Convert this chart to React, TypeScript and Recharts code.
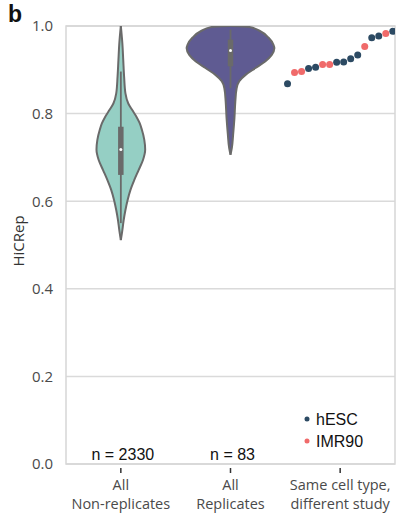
import React from 'react';
import {
  ComposedChart,
  Area,
  Scatter,
  XAxis,
  YAxis,
  CartesianGrid,
  ReferenceLine,
  ReferenceDot,
  ReferenceArea,
  Legend,
} from 'recharts';

// category labels (two lines each) and sample counts
const groupLines = [
  ['All', 'Non-replicates'],
  ['All', 'Replicates'],
  ['Same cell type,', 'different study'],
];
const groupCounts = ['n = 2330', 'n = 83'];

// violin outlines: HiCRep score (top to bottom) and density relative to the widest violin
const nonRepScores = [1.0, 0.96, 0.922, 0.884, 0.846, 0.823, 0.808, 0.793, 0.778, 0.763, 0.74, 0.718, 0.694, 0.671, 0.648, 0.626, 0.603, 0.58, 0.557, 0.534, 0.511];
const nonRepDensity = [0, 0.035, 0.055, 0.075, 0.105, 0.17, 0.26, 0.355, 0.43, 0.48, 0.535, 0.555, 0.505, 0.405, 0.305, 0.22, 0.155, 0.105, 0.065, 0.035, 0];

const repScores = [1.0, 0.998, 0.988, 0.973, 0.957, 0.949, 0.934, 0.919, 0.904, 0.889, 0.874, 0.858, 0.828, 0.79, 0.752, 0.721, 0.706];
const repDensity = [0, 0.42, 0.68, 0.87, 0.98, 1.0, 0.94, 0.79, 0.57, 0.35, 0.2, 0.14, 0.11, 0.09, 0.06, 0.03, 0];

// inner box: whisker low, q1, median, q3, whisker high
const nonRepBox = [0.55, 0.66, 0.718, 0.77, 0.896];
const repBox = [0.858, 0.908, 0.944, 0.969, 0.992];

// same cell type, different study: sorted scores and cell line
const sameStudyScores = [0.868, 0.894, 0.896, 0.903, 0.906, 0.912, 0.912, 0.917, 0.918, 0.925, 0.934, 0.953, 0.973, 0.977, 0.983, 0.988];
const sameStudyCells = ['hESC', 'IMR90', 'IMR90', 'hESC', 'hESC', 'IMR90', 'IMR90', 'hESC', 'hESC', 'hESC', 'hESC', 'IMR90', 'hESC', 'hESC', 'IMR90', 'hESC'];

const cellTypes = ['hESC', 'IMR90'];
const cellColors: Record<string, string> = { hESC: '#2c4a63', IMR90: '#f06a6a' };

const yTicks = [0, 0.2, 0.4, 0.6, 0.8, 1.0];

const HALF_WIDTH = 0.4; // half of the violin width in category units
const STRIP_SPREAD = 0.96;
const OUTLINE = '#6a6a6a';

const violin = (scores: number[], density: number[], center: number) =>
  scores.map((v, i) => ({
    v,
    range: [center - density[i] * HALF_WIDTH, center + density[i] * HALF_WIDTH],
  }));

const nonRepData = violin(nonRepScores, nonRepDensity, 0.5);
const repData = violin(repScores, repDensity, 1.5);

const n = sameStudyScores.length;
const stripPoints = sameStudyScores.map((v, i) => ({
  x: 2.5 + (i - (n - 1) / 2) * (STRIP_SPREAD / (n - 1)),
  v,
  cell: sameStudyCells[i],
}));

const countMarks = groupCounts.map((text, i) => ({ x: i + 0.5, v: 0, text }));

const GroupTick = (props: any) => {
  const { x, y, payload } = props;
  const lines = groupLines[Math.round(payload.value - 0.5)] || [];
  return (
    <g>
      <line x1={x} x2={x} y1={y + 4} y2={y + 9} stroke="#333" strokeWidth={1.5} />
      {lines.map((line, i) => (
        <text
          key={i}
          x={x}
          y={y + 26 + i * 18.5}
          textAnchor="middle"
          fontFamily="'Open Sans', sans-serif"
          fontSize={14.5}
          fill="#4a4a4a"
        >
          {line}
        </text>
      ))}
    </g>
  );
};

const CountLabel = (props: any) => (
  <text
    x={props.cx + 2}
    y={props.cy - 4}
    textAnchor="middle"
    fontFamily="'Liberation Sans', Arial, sans-serif"
    fontSize={16}
    fill="#111"
  >
    {props.payload.text}
  </text>
);

const StripDot = (props: any) => (
  <circle cx={props.cx} cy={props.cy} r={3.5} fill={props.fill} />
);

const CellLegend = () => (
  <svg width={120} height={50} style={{ position: 'absolute', left: 300, top: 405 }}>
    {cellTypes.map((cell, i) => (
      <g key={cell}>
        <circle cx={7} cy={14 + i * 22} r={2.5} fill={cellColors[cell]} />
        <text
          x={16}
          y={20 + i * 22}
          fontFamily="'Liberation Sans', Arial, sans-serif"
          fontSize={16}
          fill="#111"
        >
          {cell}
        </text>
      </g>
    ))}
  </svg>
);

const renderBox = (stats: number[], center: number) => [
  <ReferenceLine
    key="w"
    segment={[{ x: center, y: stats[0] }, { x: center, y: stats[4] }]}
    stroke={OUTLINE}
    strokeWidth={1.8}
  />,
  <ReferenceLine
    key="b"
    segment={[{ x: center, y: stats[1] }, { x: center, y: stats[3] }]}
    stroke={OUTLINE}
    strokeWidth={5.5}
  />,
  <ReferenceDot key="m" x={center} y={stats[2]} r={1.5} fill="#fff" stroke="none" />,
];

export default function App() {
  return (
    <div style={{ position: 'absolute', left: 0, top: 0, width: 401, height: 519, background: '#fff' }}>
      <svg width={40} height={30} style={{ position: 'absolute', left: 0, top: 0 }}>
        <text x={8} y={22} fontFamily="'Liberation Sans', Arial, sans-serif" fontWeight="bold" fontSize={23} fill="#111">
          b
        </text>
      </svg>
      <ComposedChart
        layout="vertical"
        width={401}
        height={519}
        margin={{ top: 26, right: 6, bottom: 0, left: 0 }}
      >
        <CartesianGrid vertical={false} stroke="#dadada" strokeWidth={1.5} />
        <XAxis
          type="number"
          dataKey="x"
          domain={[0, 3]}
          ticks={[0.5, 1.5, 2.5]}
          interval={0}
          allowDataOverflow
          axisLine={false}
          tickLine={false}
          tickSize={0}
          tickMargin={0}
          height={55}
          tick={<GroupTick />}
        />
        <YAxis
          type="number"
          dataKey="v"
          domain={[0, 1]}
          ticks={yTicks}
          reversed
          allowDataOverflow
          width={66}
          axisLine={false}
          tickLine={false}
          tickMargin={7}
          tickFormatter={(v: number) => v.toFixed(1)}
          tick={{ fill: '#4a4a4a', fontSize: 15, fontFamily: "'Open Sans', sans-serif" }}
          label={{
            content: (p: any) => {
              const vb = p.viewBox;
              const cx = vb.x + 17.5;
              const cy = vb.y + vb.height / 2 - 4;
              return (
                <text
                  x={cx}
                  y={cy}
                  transform={`rotate(-90, ${cx}, ${cy})`}
                  textAnchor="middle"
                  dominantBaseline="central"
                  fontFamily="'Open Sans', sans-serif"
                  fontSize={15}
                  fill="#333"
                >
                  HiCRep
                </text>
              );
            },
          }}
        />
        <ReferenceArea x1={0} x2={3} y1={0} y2={1} fill="none" stroke="#d6d6d6" strokeWidth={1.5} />
        <Area
          data={nonRepData}
          dataKey="range"
          type="monotone"
          fill="#95cfc4"
          fillOpacity={1}
          stroke={OUTLINE}
          strokeWidth={2}
          isAnimationActive={false}
        />
        <Area
          data={repData}
          dataKey="range"
          type="monotone"
          fill="#5f5b92"
          fillOpacity={1}
          stroke={OUTLINE}
          strokeWidth={2}
          isAnimationActive={false}
        />
        {renderBox(nonRepBox, 0.5)}
        {renderBox(repBox, 1.5)}
        {cellTypes.map((cell) => (
          <Scatter
            key={cell}
            name={cell}
            data={stripPoints.filter((p) => p.cell === cell)}
            fill={cellColors[cell]}
            shape={<StripDot />}
            isAnimationActive={false}
          />
        ))}
        <Scatter data={countMarks} shape={<CountLabel />} isAnimationActive={false} />
        <Legend
          layout="vertical"
          verticalAlign="bottom"
          align="center"
          wrapperStyle={{ left: 0, top: 0, bottom: 'auto', width: 0, height: 0 }}
          content={() => <CellLegend />}
        />
      </ComposedChart>
    </div>
  );
}
